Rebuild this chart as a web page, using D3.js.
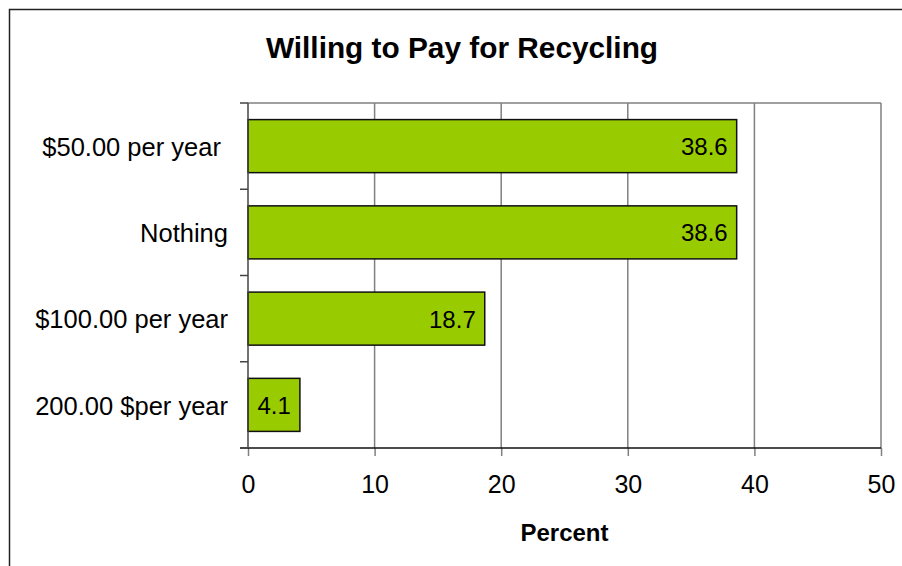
<!DOCTYPE html>
<html>
<head>
<meta charset="utf-8">
<script src="https://cdn.jsdelivr.net/npm/d3@7"></script>
<style>
  html, body { margin: 0; padding: 0; background: #fff; }
  svg { display: block; }
  text { font-family: "Liberation Sans", Arial, sans-serif; fill: #000; }
</style>
</head>
<body>
<svg id="chart" width="902" height="566"></svg>
<script>
// Survey answers, top to bottom
const categories = ["$50.00 per year ", "Nothing", "$100.00 per year", "200.00 $per year"];
const percentValues = [38.6, 38.6, 18.7, 4.1];
const xTicks = [0, 10, 20, 30, 40, 50];
const titleText = "Willing to Pay for Recycling";
const xAxisTitle = "Percent";

const svg = d3.select("#chart");
const W = 902, H = 566;
const plot = { left: 248, right: 881, top: 103, bottom: 448 };

// Chart-area frame
svg.append("rect")
  .attr("x", 9.5).attr("y", 9.5)
  .attr("width", W).attr("height", H)
  .attr("fill", "#fff").attr("stroke", "#222").attr("stroke-width", 1.5);

const x = d3.scaleLinear().domain([0, 50]).range([plot.left, plot.right]);
const y = d3.scaleBand().domain(categories)
  .range([plot.top, plot.bottom])
  .paddingInner(0.385).paddingOuter(0.1925);

// Vertical gridlines
svg.append("g").selectAll("line")
  .data(xTicks.filter(d => d > 0))
  .join("line")
  .attr("x1", d => x(d)).attr("x2", d => x(d))
  .attr("y1", plot.top).attr("y2", plot.bottom)
  .attr("stroke", "#808080").attr("stroke-width", 1.5);

// Plot-area top edge
svg.append("line")
  .attr("x1", plot.left).attr("x2", plot.right)
  .attr("y1", plot.top).attr("y2", plot.top)
  .attr("stroke", "#808080").attr("stroke-width", 1.5);

// Bars
svg.append("g").selectAll("rect")
  .data(categories)
  .join("rect")
  .attr("x", x(0))
  .attr("y", d => y(d))
  .attr("width", (d, i) => x(percentValues[i]) - x(0))
  .attr("height", y.bandwidth())
  .attr("fill", "#99CC00")
  .attr("stroke", "#111").attr("stroke-width", 1.5);

// Value labels, inside the bar end
svg.append("g").selectAll("text")
  .data(categories)
  .join("text")
  .attr("x", (d, i) => x(percentValues[i]) - 9)
  .attr("y", d => y(d) + y.bandwidth() / 2)
  .attr("dy", "0.38em")
  .attr("text-anchor", "end")
  .attr("font-size", 24)
  .text((d, i) => percentValues[i].toFixed(1));

// Bottom axis
const xAxis = d3.axisBottom(x).tickValues(xTicks).tickSize(8).tickPadding(19);
const gx = svg.append("g").attr("transform", `translate(0,${plot.bottom})`).call(xAxis);
gx.select(".domain").remove();
gx.selectAll(".tick line").attr("stroke", "#808080").attr("stroke-width", 1.5);
gx.selectAll(".tick text").attr("font-size", 25).attr("font-family", "Liberation Sans, Arial, sans-serif").attr("fill", "#000");
svg.append("line")
  .attr("x1", plot.left - 8).attr("x2", plot.right)
  .attr("y1", plot.bottom).attr("y2", plot.bottom)
  .attr("stroke", "#111").attr("stroke-width", 1.5);

// Left axis with ticks at category boundaries
const boundaries = categories.map(d => y(d) - y.step() * y.paddingInner() / 2);
boundaries.push(plot.bottom);
svg.append("g").selectAll("line")
  .data(boundaries)
  .join("line")
  .attr("x1", plot.left - 8).attr("x2", plot.left)
  .attr("y1", d => d).attr("y2", d => d)
  .attr("stroke", "#444").attr("stroke-width", 1.5);
svg.append("line")
  .attr("x1", plot.left).attr("x2", plot.left)
  .attr("y1", plot.top).attr("y2", plot.bottom)
  .attr("stroke", "#444").attr("stroke-width", 1.5);

// Category labels
svg.append("g").selectAll("text")
  .data(categories)
  .join("text")
  .attr("x", 228)
  .attr("y", d => y(d) + y.bandwidth() / 2)
  .attr("dy", "0.38em")
  .attr("text-anchor", "end")
  .attr("font-size", 25.5)
  .style("white-space", "pre")
  .text(d => d);

// Titles
svg.append("text")
  .attr("x", 462).attr("y", 58)
  .attr("text-anchor", "middle")
  .attr("font-size", 29.8).attr("font-weight", "bold")
  .text(titleText);

svg.append("text")
  .attr("x", (plot.left + plot.right) / 2).attr("y", 541)
  .attr("text-anchor", "middle")
  .attr("font-size", 24).attr("font-weight", "bold")
  .text(xAxisTitle);
</script>
</body>
</html>
